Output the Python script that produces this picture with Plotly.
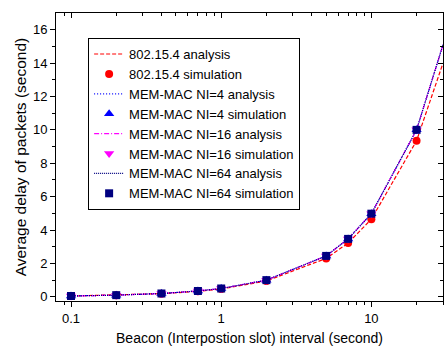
import plotly.graph_objects as go

x = [0.1, 0.2, 0.4, 0.7, 1, 2, 5, 7, 10, 20, 30]
ieee_analysis = [0.05, 0.1, 0.19, 0.33, 0.47, 0.95, 2.3, 3.22, 4.65, 9.35, 14.0]
ieee_sim = [0.05, 0.1, 0.19, 0.33, 0.47, 0.95, 2.3, 3.22, 4.65, 9.35]
ni4_analysis = [0.05, 0.1, 0.2, 0.35, 0.5, 1.0, 2.45, 3.47, 4.98, 10.0, 15.1]
ni4_sim = [0.05, 0.1, 0.2, 0.35, 0.5, 1.0, 2.45, 3.47, 4.98, 10.0]
ni16_analysis = [0.05, 0.1, 0.2, 0.35, 0.5, 1.0, 2.45, 3.47, 4.98, 10.0, 15.1]
ni16_sim = [0.05, 0.1, 0.2, 0.35, 0.5, 1.0, 2.45, 3.47, 4.98, 10.0]
ni64_analysis = [0.05, 0.1, 0.2, 0.35, 0.5, 1.0, 2.45, 3.47, 4.98, 10.0, 15.1]
ni64_sim = [0.05, 0.1, 0.2, 0.35, 0.5, 1.0, 2.45, 3.47, 4.98, 10.0]
xsim = x[:10]

fig = go.Figure()
fig.add_trace(go.Scatter(x=x, y=ieee_analysis, mode="lines", name="802.15.4 analysis",
                         line=dict(color="#ff0000", dash="4px,2px", width=1.2)))
fig.add_trace(go.Scatter(x=xsim, y=ieee_sim, mode="markers", name="802.15.4 simulation",
                         marker=dict(color="#ff0000", symbol="circle", size=8)))
fig.add_trace(go.Scatter(x=x, y=ni4_analysis, mode="lines", name="MEM-MAC NI=4 analysis",
                         line=dict(color="#0000ff", dash="1px,2px", width=1.2)))
fig.add_trace(go.Scatter(x=xsim, y=ni4_sim, mode="markers", name="MEM-MAC NI=4 simulation",
                         marker=dict(color="#0000ff", symbol="triangle-up", size=9)))
fig.add_trace(go.Scatter(x=x, y=ni16_analysis, mode="lines", name="MEM-MAC NI=16 analysis",
                         line=dict(color="#ff00ff", dash="5px,2px,1px,2px", width=1.2)))
fig.add_trace(go.Scatter(x=xsim, y=ni16_sim, mode="markers", name="MEM-MAC NI=16 simulation",
                         marker=dict(color="#ff00ff", symbol="triangle-down", size=9)))
fig.add_trace(go.Scatter(x=x, y=ni64_analysis, mode="lines", name="MEM-MAC NI=64 analysis",
                         line=dict(color="#000080", dash="1px,1px", width=1.2)))
fig.add_trace(go.Scatter(x=xsim, y=ni64_sim, mode="markers", name="MEM-MAC NI=64 simulation",
                         marker=dict(color="#000080", symbol="square", size=8)))

# invisible trace that anchors the mirrored axes (inside ticks on top/right)
fig.add_trace(go.Scatter(x=[1], y=[1], xaxis="x2", yaxis="y2", mode="markers",
                         marker=dict(opacity=0), showlegend=False, hoverinfo="skip"))

xr = [-1.1, 1.477]
yr = [-0.25, 17]
font = "Liberation Sans, Arial, sans-serif"
xminor = [0.09, 0.2, 0.3, 0.4, 0.5, 0.6, 0.7, 0.8, 0.9, 2, 3, 4, 5, 6, 7, 8, 9, 20, 30]
ymajor = [0, 2, 4, 6, 8, 10, 12, 14, 16]
yminor = [1, 3, 5, 7, 9, 11, 13, 15]

fig.update_layout(
    width=444, height=346,
    margin=dict(l=56, r=1, t=13, b=45),
    paper_bgcolor="white", plot_bgcolor="white",
    font=dict(family=font, size=13, color="black"),
    showlegend=True,
    legend=dict(x=0.083, y=0.913, xanchor="left", yanchor="top",
                bordercolor="black", borderwidth=1, bgcolor="white",
                font=dict(size=13, color="black"), tracegroupgap=0),
    xaxis=dict(type="log", range=xr, showgrid=False, zeroline=False,
               showline=True, linecolor="black", linewidth=1,
               ticks="outside", ticklen=5, tickcolor="black",
               tickvals=[0.1, 1, 10], ticktext=["0.1", "1", "10"],
               minor=dict(ticks="outside", ticklen=3, tickcolor="black", tickvals=xminor),
               title=dict(text="Beacon (Interpostion slot) interval (second)",
                          font=dict(size=14), standoff=9),
               tickfont=dict(size=13)),
    yaxis=dict(range=yr, showgrid=False, zeroline=False,
               showline=True, linecolor="black", linewidth=1,
               ticks="outside", ticklen=5, tickcolor="black",
               tickvals=ymajor,
               minor=dict(ticks="outside", ticklen=3, tickcolor="black", tickvals=yminor),
               title=dict(text="Average delay of packets (second)",
                          font=dict(size=15.5), standoff=2),
               tickfont=dict(size=13)),
    xaxis2=dict(type="log", range=xr, overlaying="x", side="top", showgrid=False,
                zeroline=False, showline=True, linecolor="black", linewidth=1,
                ticks="inside", ticklen=5, tickcolor="black",
                tickvals=[0.1, 1, 10], showticklabels=False,
                minor=dict(ticks="inside", ticklen=3, tickcolor="black", tickvals=xminor)),
    yaxis2=dict(range=yr, overlaying="y", side="right", showgrid=False,
                zeroline=False, showline=True, linecolor="black", linewidth=1,
                ticks="inside", ticklen=5, tickcolor="black",
                tickvals=ymajor, showticklabels=False,
                minor=dict(ticks="inside", ticklen=3, tickcolor="black", tickvals=yminor)),
)

fig.write_html("out.html")
